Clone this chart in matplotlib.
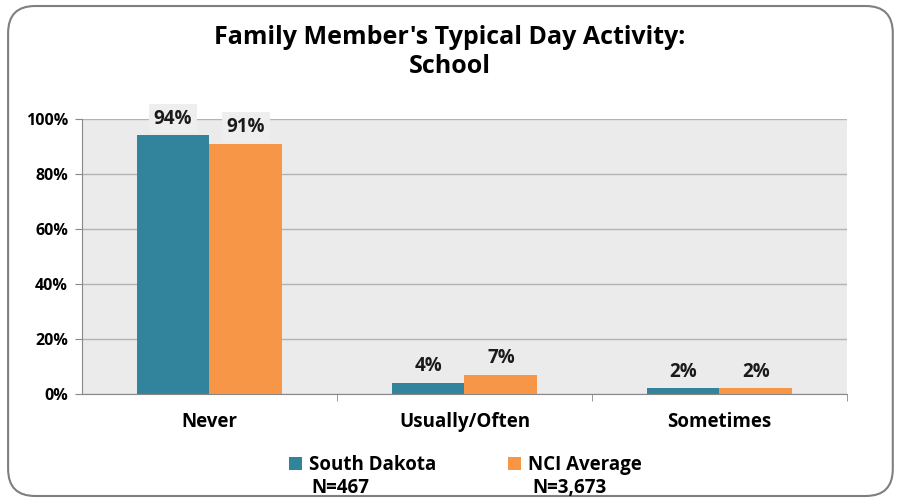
import numpy as np
import matplotlib.pyplot as plt
from matplotlib.patches import FancyBboxPatch

categories = ['Never', 'Usually/Often', 'Sometimes']
south_dakota = [94, 4, 2]
nci_average = [91, 7, 2]
series_names = ['South Dakota', 'NCI Average']
series_n = ['N=467', 'N=3,673']
colors = ['#31849B', '#F79646']

plt.rcParams['font.family'] = ['Open Sans', 'DejaVu Sans']

fig = plt.figure(figsize=(9, 5.01), dpi=100)
ax = fig.add_axes([0.0911, 0.2136, 0.85, 0.5489])

# rounded outer frame
frame = FancyBboxPatch((0.009, 0.01), 0.983, 0.978, boxstyle='round,pad=0,rounding_size=0.03',
                       transform=fig.transFigure, fill=False, edgecolor='#7F7F7F', linewidth=1.5,
                       mutation_aspect=900 / 501)
fig.patches.append(frame)

x = np.arange(len(categories))
w = 0.286
ax.set_facecolor('#EBEBEB')
ax.set_axisbelow(True)
ax.yaxis.grid(True, color='#B3B3B3', linewidth=1)

for i, vals in enumerate([south_dakota, nci_average]):
    off = (i - 0.5) * w
    bars = ax.bar(x + off, np.array(vals) / 100, w, color=colors[i], label=series_names[i])
    for b, v in zip(bars, vals):
        ax.text(b.get_x() + b.get_width() / 2, b.get_height() + 0.025, f'{v}%',
                ha='center', va='bottom', fontsize=13.5, fontweight='bold', color='#1a1a1a',
                bbox=dict(boxstyle='square,pad=0.25', facecolor='#EEEEEE', edgecolor='none') if v > 50 else None,
                clip_on=False)

ax.set_xlim(-0.5, 2.5)
ax.set_ylim(0, 1)
ax.set_yticks(np.arange(0, 1.01, 0.2))
ax.set_yticklabels([f'{int(t * 100)}%' for t in np.arange(0, 1.01, 0.2)], fontsize=11.5, fontweight='bold')
ax.set_xticks(x)
ax.set_xticklabels(categories, fontsize=13.5, fontweight='bold')
ax.set_xticks([0.5, 1.5, 2.5], minor=True)
ax.tick_params(axis='x', which='major', length=0, pad=13)
ax.tick_params(axis='x', which='minor', length=5, color='#888888')
ax.tick_params(axis='y', length=5, color='#888888', pad=5)
for s in ['top', 'right']:
    ax.spines[s].set_visible(False)
for s in ['left', 'bottom']:
    ax.spines[s].set_color('#888888')

fig.text(0.5, 0.896, "Family Member's Typical Day Activity:\nSchool", ha='center', va='center',
         fontsize=18, fontweight='bold', linespacing=1.25)

leg = fig.legend(loc='center', bbox_to_anchor=(0.517, 0.072), ncol=2, frameon=False,
                 prop=dict(size=13.5, weight='bold'), handlelength=0.7, handleheight=0.7,
                 handletextpad=0.4, columnspacing=3.8)
for xn, n in zip([0.378, 0.633], series_n):
    fig.text(xn, 0.025, n, ha='center', va='center', fontsize=13.5, fontweight='bold')

fig.savefig('out.png', dpi=100)
